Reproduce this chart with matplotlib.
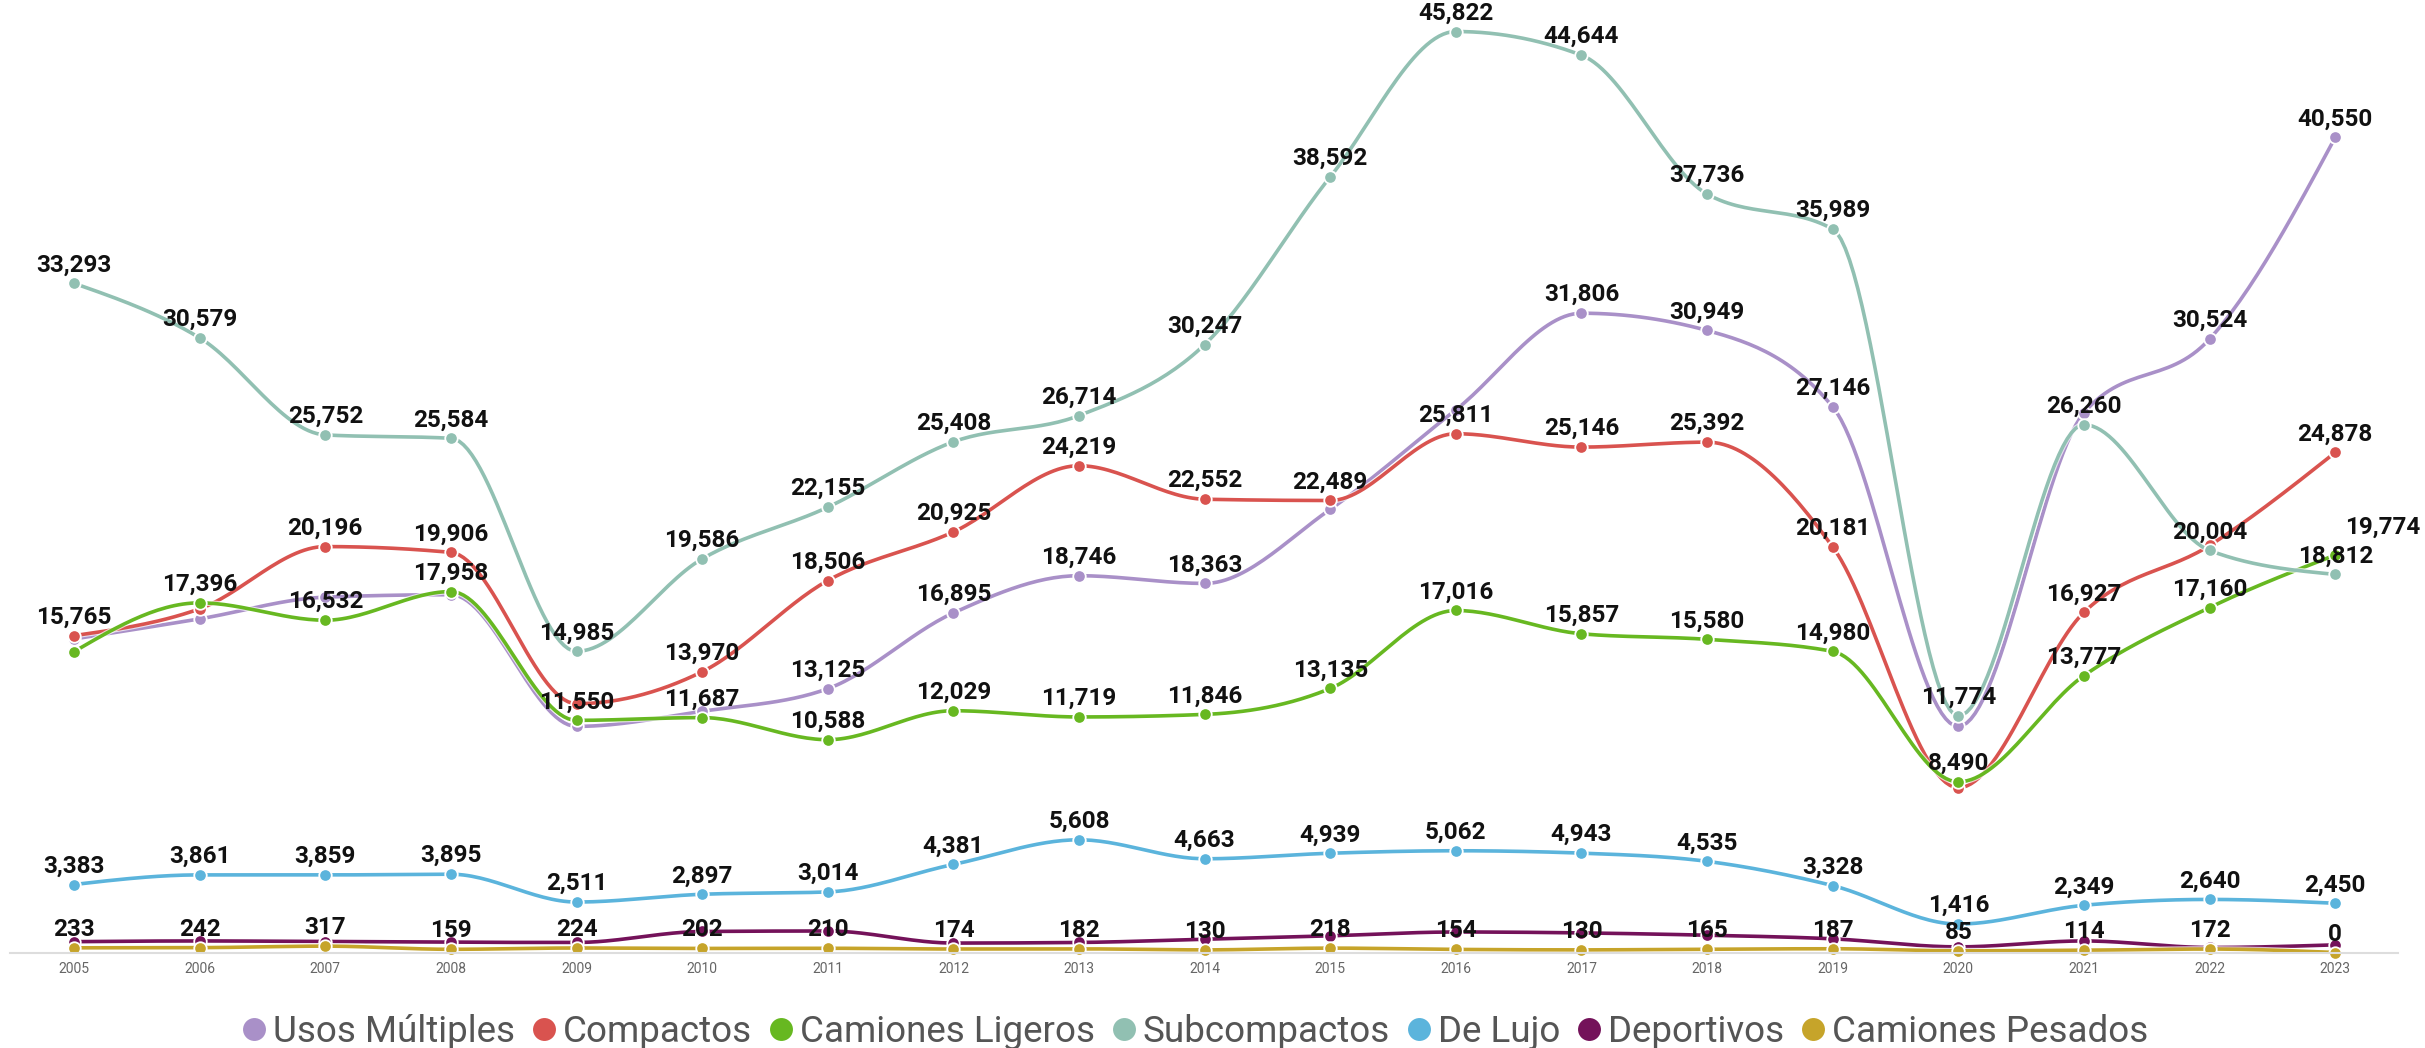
import numpy as np
import matplotlib.pyplot as plt
import matplotlib.patheffects as pe
from matplotlib.lines import Line2D

plt.rcParams['font.family'] = ['Roboto', 'DejaVu Sans']

years = list(range(2005, 2024))

usos_multiples = [15600, 16600, 17680, 17800, 11250, 12000, 13125, 16895, 18746, 18363,
                  22050, 27000, 31806, 30949, 27146, 11250, 26850, 30524, 40550]
compactos = [15765, 17100, 20196, 19906, 12380, 13970, 18506, 20925, 24219, 22552,
             22489, 25811, 25146, 25392, 20181, 8200, 16927, 20250, 24878]
camiones_ligeros = [14970, 17396, 16532, 17958, 11550, 11687, 10588, 12029, 11719, 11846,
                    13135, 17016, 15857, 15580, 14980, 8490, 13777, 17160, 19774]
subcompactos = [33293, 30579, 25752, 25584, 14985, 19586, 22155, 25408, 26714, 30247,
                38592, 45822, 44644, 37736, 35989, 11774, 26260, 20004, 18812]
de_lujo = [3383, 3861, 3859, 3895, 2511, 2897, 3014, 4381, 5608, 4663,
           4939, 5062, 4943, 4535, 3328, 1416, 2349, 2640, 2450]
deportivos = [540, 575, 545, 510, 500, 1045, 1070, 470, 500, 660,
              830, 1020, 975, 860, 680, 280, 575, 250, 380]
camiones_pesados = [233, 242, 317, 159, 224, 202, 210, 174, 182, 130,
                    218, 154, 130, 165, 187, 85, 114, 172, 0]

names = ["Usos Múltiples", "Compactos", "Camiones Ligeros", "Subcompactos",
         "De Lujo", "Deportivos", "Camiones Pesados"]
colors = ["#a990c8", "#d9534f", "#67b821", "#91c0b2", "#5bb4dc", "#74125a", "#c6a42a"]
series = [usos_multiples, compactos, camiones_ligeros, subcompactos,
          de_lujo, deportivos, camiones_pesados]

# years whose value label is shown (the rest were hidden to avoid overlaps)
labelled = [
    [2011, 2012, 2013, 2014, 2017, 2018, 2019, 2022, 2023],
    [y for y in years if y not in (2006, 2009, 2020, 2022)],
    [y for y in years if y != 2005],
    years,
    years,
    [],
    years,
]


def monotone_x(x, y, n=30):
    # same curve as d3.curveMonotoneX
    x = np.asarray(x, float)
    y = np.asarray(y, float)
    h = np.diff(x)
    s = np.diff(y) / h
    t = np.zeros(len(x))
    for i in range(1, len(x) - 1):
        p = (s[i - 1] * h[i] + s[i] * h[i - 1]) / (h[i - 1] + h[i])
        t[i] = (np.sign(s[i - 1]) + np.sign(s[i])) * min(abs(s[i - 1]), abs(s[i]), 0.5 * abs(p))
    t[0] = (3 * s[0] - t[1]) / 2
    t[-1] = (3 * s[-1] - t[-2]) / 2
    xs, ys = [], []
    for i in range(len(x) - 1):
        u = np.linspace(0, 1, n, endpoint=(i == len(x) - 2))
        h00 = 2 * u**3 - 3 * u**2 + 1
        h10 = u**3 - 2 * u**2 + u
        h01 = -2 * u**3 + 3 * u**2
        h11 = u**3 - u**2
        xs.append(x[i] + u * h[i])
        ys.append(h00 * y[i] + h10 * h[i] * t[i] + h01 * y[i + 1] + h11 * h[i] * t[i + 1])
    return np.concatenate(xs), np.concatenate(ys)


fig = plt.figure(figsize=(24.25, 10.48), dpi=100)
ax = fig.add_axes([10 / 2425, 1 - 952.5 / 1048, 2388 / 2425, 952.5 / 1048])

for vals, c in zip(series, colors):
    xs, ys = monotone_x(years, vals)
    ax.plot(xs, ys, color=c, lw=2.6, clip_on=False, solid_capstyle="round",
            path_effects=[pe.Stroke(linewidth=4.2, foreground="white", alpha=0.7), pe.Normal()])
    ax.plot(years, vals, ls="none", marker="o", ms=9, color=c, mec="white", mew=1.3,
            clip_on=False)

for vals, yrs in zip(series, labelled):
    for yr, v in zip(years, vals):
        if yr not in yrs:
            continue
        dx, dy = 0, 5
        if vals is camiones_ligeros and yr == 2023:
            dx, dy = 34, 12
        ax.annotate(f"{v:,}", (yr, v), xytext=(dx, dy), textcoords="offset points",
                    ha="center", va="bottom", fontsize=17.5, fontweight="bold",
                    color="#111111", annotation_clip=False)

ax.set_xlim(2004.49, 2023.5)
ax.set_ylim(0, 47390)
ax.set_xticks(years)
ax.set_xticklabels([str(y) for y in years], fontsize=10, color="#666666")
ax.tick_params(axis="x", length=0, pad=7)
ax.set_yticks([])
for side in ("top", "left", "right"):
    ax.spines[side].set_visible(False)
ax.spines["bottom"].set_color("#dddddd")
ax.spines["bottom"].set_linewidth(1.5)

handles = [Line2D([], [], ls="none", marker="o", ms=16.5, color=c, mec="white", mew=0)
           for c in colors]
fig.legend(handles, names, loc="center", bbox_to_anchor=(1193 / 2425, 1 - 1032 / 1048),
           ncol=7, frameon=False, fontsize=26.5, handletextpad=0.05, columnspacing=0.35,
           handlelength=0.9, labelcolor="#555555")

fig.savefig("out.png", dpi=100)
